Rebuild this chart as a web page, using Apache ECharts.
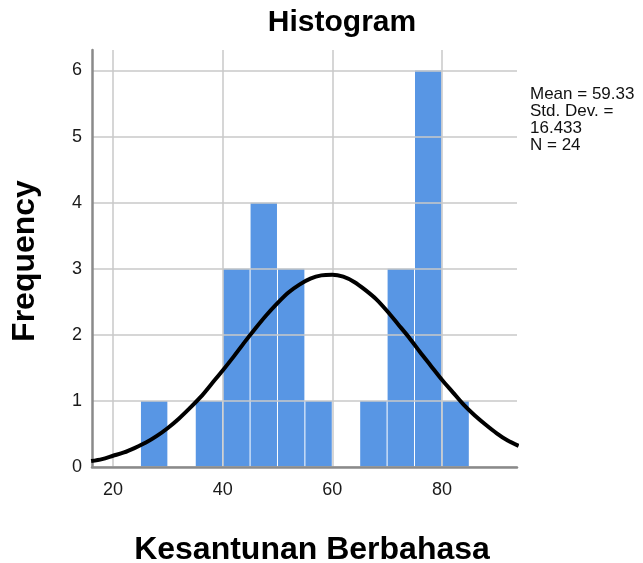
<!DOCTYPE html>
<html>
<head>
<meta charset="utf-8">
<script src="https://cdn.jsdelivr.net/npm/echarts@6/dist/echarts.min.js"></script>
<style>
html,body{margin:0;padding:0;background:#fff;}
#chart{width:643px;height:563px;}
</style>
</head>
<body>
<div id="chart"></div>
<script>
// Histogram bins (lower edge, upper edge) and frequencies
var binStarts = [25, 35, 40, 45, 50, 55, 65, 70, 75, 80];
var binEnds   = [30, 40, 45, 50, 55, 60, 70, 75, 80, 85];
var counts    = [1, 1, 3, 4, 3, 1, 1, 3, 6, 1];

// Normal curve
var curveX = [16, 18, 20, 22, 24, 26, 28, 30, 32, 34, 36, 38, 40, 42, 44, 46, 48, 50, 52, 54, 56, 58, 60, 62, 64, 66, 68, 70, 72, 74, 76, 78, 80, 82, 84, 86, 88, 90, 92, 94];
var curveY = [0.09, 0.12, 0.17, 0.22, 0.29, 0.37, 0.47, 0.59, 0.73, 0.89, 1.06, 1.26, 1.46, 1.67, 1.89, 2.10, 2.30, 2.48, 2.64, 2.76, 2.85, 2.90, 2.91, 2.88, 2.80, 2.68, 2.54, 2.36, 2.16, 1.96, 1.74, 1.53, 1.32, 1.13, 0.94, 0.78, 0.64, 0.51, 0.40, 0.32];

var xTicks = [20, 40, 60, 80];
var yTicks = [0, 1, 2, 3, 4, 5, 6];

var statsLines = ['Mean = 59.33', 'Std. Dev. =', '16.433', 'N = 24'];

var FONT = '"Liberation Sans", Arial, sans-serif';

var barData = binStarts.map(function (s, i) { return [s, binEnds[i], counts[i]]; });
var lineData = curveX.map(function (x, i) { return [x, curveY[i]]; });

var chart = echarts.init(document.getElementById('chart'), null, {renderer: 'canvas'});
chart.setOption({
  animation: false,
  backgroundColor: '#ffffff',
  grid: {left: 92, right: 126, top: 50, bottom: 96, containLabel: false},
  xAxis: {
    type: 'value',
    min: 16.16,
    max: 93.7,
    z: 3,
    axisLine: {show: true, lineStyle: {color: '#8a8a8a', width: 2.5}},
    axisTick: {show: false, customValues: xTicks},
    splitLine: {show: true, customValues: xTicks, lineStyle: {color: '#c8c8c8', width: 1.5}},
    axisLabel: {customValues: xTicks, color: '#1a1a1a', fontFamily: FONT, fontSize: 18, margin: 14}
  },
  yAxis: {
    type: 'value',
    min: 0,
    max: 6.31,
    z: 3,
    axisLine: {show: true, lineStyle: {color: '#8a8a8a', width: 2.5}},
    axisTick: {show: false, customValues: yTicks},
    splitLine: {show: true, customValues: yTicks, lineStyle: {color: '#c8c8c8', width: 1.5}},
    axisLabel: {customValues: yTicks, color: '#1a1a1a', fontFamily: FONT, fontSize: 18, margin: 10}
  },
  series: [
    {
      type: 'custom',
      z: 2,
      data: barData,
      encode: {x: [0, 1], y: 2},
      renderItem: function (params, api) {
        var p0 = api.coord([api.value(0), api.value(2)]);
        var p1 = api.coord([api.value(1), 0]);
        return {
          type: 'rect',
          shape: {x: p0[0] + 0.5, y: p0[1], width: p1[0] - p0[0] - 1, height: p1[1] - p0[1]},
          style: {fill: '#5896e4'}
        };
      }
    },
    {
      type: 'line',
      z: 4,
      data: lineData,
      smooth: 0.3,
      showSymbol: false,
      symbol: 'none',
      clip: true,
      lineStyle: {color: '#000', width: 4}
    }
  ],
  graphic: [
    {
      type: 'text', x: 342, y: 23,
      style: {text: 'Histogram', font: 'bold 30px ' + FONT, fill: '#000', align: 'center', verticalAlign: 'middle'}
    },
    {
      type: 'text', x: 25, y: 261, rotation: Math.PI / 2,
      style: {text: 'Frequency', font: 'bold 32px ' + FONT, fill: '#000', align: 'center', verticalAlign: 'middle'}
    },
    {
      type: 'text', x: 312, y: 550,
      style: {text: 'Kesantunan Berbahasa', font: 'bold 32px ' + FONT, fill: '#000', align: 'center', verticalAlign: 'middle'}
    },
    {
      type: 'text', x: 530, y: 86,
      style: {text: statsLines.join('\n'), font: '17px ' + FONT, lineHeight: 17, fill: '#111', align: 'left', verticalAlign: 'top'}
    }
  ]
});
</script>
</body>
</html>
